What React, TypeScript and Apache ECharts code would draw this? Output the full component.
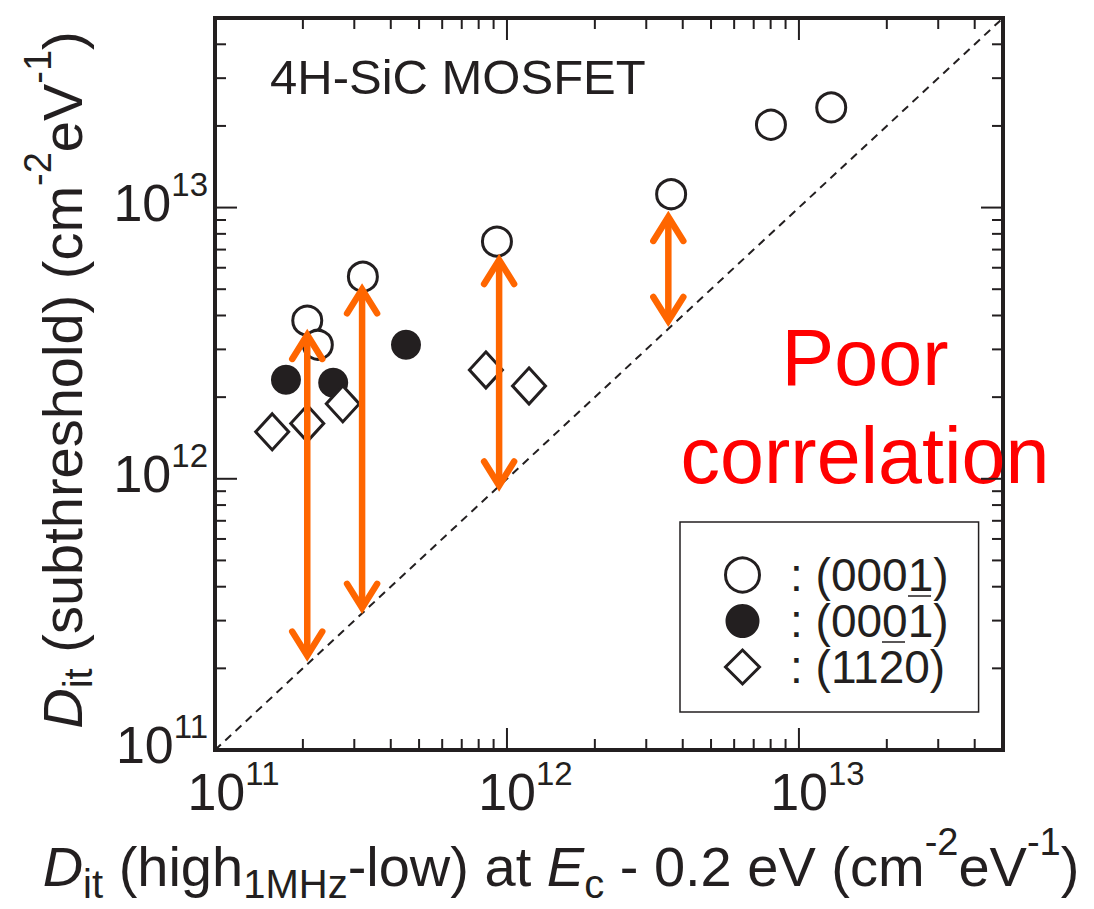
import React, { useEffect, useRef } from "react";
import * as echarts from "echarts";

// ---- data ----
const axisMin = 1e11;
const axisMax = 5e13;

const openX = [2.07e11, 2.25e11, 3.21e11, 9.24e11, 3.65e12, 8.02e12, 1.29e13];
const openY = [3.83e12, 3.12e12, 5.56e12, 7.49e12, 1.12e13, 2.02e13, 2.34e13];

const filledX = [1.75e11, 2.54e11, 4.51e11];
const filledY = [2.32e12, 2.26e12, 3.12e12];

const diamondX = [1.57e11, 2.07e11, 2.74e11, 8.47e11, 1.19e12];
const diamondY = [1.49e12, 1.6e12, 1.89e12, 2.52e12, 2.2e12];

const arrowX = [2.07e11, 3.19e11, 9.4e11, 3.57e12];
const arrowTop = [3.6e12, 5.3e12, 6.8e12, 9.8e12];
const arrowBottom = [2.1e11, 3.15e11, 8.9e11, 3.6e12];

const diagX = [1e11, 5e13];
const diagY = [1e11, 5e13];

const tickDecades = [11, 12, 13];
const tickMultipliers = [1, 2, 3, 4, 5, 6, 7, 8, 9];

const seriesNames = ["C-face (000-1)", "Si-face (0001)", "a-face (11-20)"];
const legendTexts = ["\u00a0\u00a0: (0001)", "\u00a0\u00a0: (0001)", "\u00a0\u00a0: (1120)"];

const INK = "#231f20";
const ORANGE = "#ff6600";
const FONT = "'Liberation Sans', Arial, Helvetica, sans-serif";

const zip = (a: number[], b: number[]) => a.map((v, i) => [v, b[i]]);

export default function App() {
  const ref = useRef<HTMLDivElement>(null);

  useEffect(() => {
    if (!ref.current) return;
    const chart = echarts.init(ref.current, null, { renderer: "svg" });

    const tickData: number[][] = [];
    tickDecades.forEach((d) =>
      tickMultipliers.forEach((m) => {
        const v = m * Math.pow(10, d);
        if (v <= axisMax) tickData.push([v, v, m === 1 ? 1 : 0]);
      })
    );

    const labelFormatter = (v: number) => {
      const e = Math.log10(v);
      const n = Math.round(e);
      if (Math.abs(e - n) > 1e-6) return "";
      return `{b|10}{s|${n}}`;
    };
    const labelRich = {
      b: { fontSize: 52, lineHeight: 70, fontFamily: FONT, color: INK },
      s: { fontSize: 33, lineHeight: 33, verticalAlign: "top", fontFamily: FONT, color: INK },
    };

    const titleRich = (main: number, sub: number, sup: number, subPad: number, supPad: number, lh: number) => ({
      n: { fontSize: main, lineHeight: lh, fontFamily: FONT, color: INK },
      it: { fontSize: main, lineHeight: lh, fontStyle: "italic", fontFamily: FONT, color: INK },
      sub: { fontSize: sub, padding: [subPad, 0, 0, 0], fontFamily: FONT, color: INK },
      sup: { fontSize: sup, padding: [0, 0, supPad, 0], fontFamily: FONT, color: INK },
    });

    const option: any = {
      animation: false,
      backgroundColor: "#ffffff",
      grid: {
        left: 215,
        right: 91,
        top: 18,
        bottom: 159,
        show: true,
        borderWidth: 4,
        borderColor: INK,
        backgroundColor: "transparent",
      },
      xAxis: {
        type: "log",
        logBase: 10,
        min: axisMin,
        max: axisMax,
        axisLine: { show: false },
        axisTick: { show: false },
        splitLine: { show: false },
        axisLabel: {
          formatter: labelFormatter,
          rich: labelRich,
          margin: 7,
          padding: [0, 0, 0, 37],
          showMaxLabel: false,
        },
        name: "{it|D}{sub|it}{n| (high}{sub|1MHz}{n|-low) at }{it|E}{sub|c}{n| - 0.2 eV (cm}{sup|-2}{n|eV}{sup|-1}{n|)}",
        nameLocation: "middle",
        nameGap: 73,
        nameTextStyle: { rich: titleRich(56, 40, 38, 36, 48, 86), padding: [0, 96, 0, 0] },
      },
      yAxis: {
        type: "log",
        logBase: 10,
        min: axisMin,
        max: axisMax,
        axisLine: { show: false },
        axisTick: { show: false },
        splitLine: { show: false },
        axisLabel: {
          formatter: labelFormatter,
          rich: labelRich,
          margin: 7,
          padding: [0, 0, 10, 0],
          showMaxLabel: false,
        },
        name: "{it|D}{sub|it}{n| (subthreshold) (cm}{sup|-2}{n|eV}{sup|-1}{n|)}",
        nameLocation: "middle",
        nameRotate: 90,
        nameGap: 110,
        nameTextStyle: { rich: titleRich(56, 40, 38, 31, 48, 86), padding: [0, 0, 0, 8] },
      },
      legend: {
        orient: "vertical",
        left: 680,
        top: 522,
        padding: [30, 30, 22, 44],
        itemGap: 0,
        itemWidth: 34,
        itemHeight: 34,
        borderColor: INK,
        borderWidth: 1.5,
        backgroundColor: "#ffffff",
        selectedMode: false,
        textStyle: { fontSize: 46, lineHeight: 46, color: INK, fontFamily: FONT },
        formatter: (name: string) => legendTexts[seriesNames.indexOf(name)],
        data: [
          { name: seriesNames[0], icon: "circle", itemStyle: { color: "#ffffff", borderColor: INK, borderWidth: 3 } },
          { name: seriesNames[1], icon: "circle", itemStyle: { color: INK, borderColor: INK, borderWidth: 0 } },
          { name: seriesNames[2], icon: "diamond", itemStyle: { color: "#ffffff", borderColor: INK, borderWidth: 3 } },
        ],
      },
      graphic: [
        {
          type: "text",
          left: 270,
          top: 52,
          style: { text: "4H-SiC MOSFET", fontSize: 49, fontFamily: FONT, fill: INK },
        },
        {
          type: "text",
          x: 865,
          y: 406,
          style: {
            text: "Poor\ncorrelation",
            fontSize: 79,
            lineHeight: 98,
            fontFamily: FONT,
            fill: "#ff0000",
            align: "center",
            verticalAlign: "middle",
          },
        },
        { type: "line", shape: { x1: 908, y1: 596, x2: 931, y2: 596 }, style: { stroke: INK, lineWidth: 1.5 }, z: 200 },
        { type: "line", shape: { x1: 882, y1: 642, x2: 905, y2: 642 }, style: { stroke: INK, lineWidth: 1.5 }, z: 200 },
      ],
      series: [
        {
          type: "custom",
          name: "ticks",
          clip: false,
          silent: true,
          z: 1,
          encode: { x: 0, y: 1 },
          data: tickData,
          renderItem: (params: any, api: any) => {
            const v = api.value(0);
            const major = api.value(2) === 1;
            const cs = params.coordSys;
            const px = api.coord([v, axisMin])[0];
            const py = api.coord([axisMin, v])[1];
            const L = major ? 22 : 11;
            const style = { stroke: INK, lineWidth: 2 };
            const bottom = cs.y + cs.height;
            const right = cs.x + cs.width;
            const children: any[] = [];
            if (px > cs.x + 2 && px < right - 2) {
              children.push({ type: "line", shape: { x1: px, y1: bottom, x2: px, y2: bottom - L }, style });
              children.push({ type: "line", shape: { x1: px, y1: cs.y, x2: px, y2: cs.y + L }, style });
            }
            if (py > cs.y + 2 && py < bottom - 2) {
              children.push({ type: "line", shape: { x1: cs.x, y1: py, x2: cs.x + L, y2: py }, style });
              children.push({ type: "line", shape: { x1: right, y1: py, x2: right - L, y2: py }, style });
            }
            return { type: "group", children };
          },
        },
        {
          type: "line",
          name: "diagonal",
          data: zip(diagX, diagY),
          symbol: "none",
          silent: true,
          z: 2,
          lineStyle: { color: INK, width: 2, type: [8, 6] },
        },
        {
          type: "scatter",
          name: seriesNames[0],
          data: zip(openX, openY),
          symbol: "circle",
          symbolSize: 29,
          z: 3,
          itemStyle: { color: "#ffffff", borderColor: INK, borderWidth: 3, opacity: 1 },
        },
        {
          type: "scatter",
          name: seriesNames[1],
          data: zip(filledX, filledY),
          symbol: "circle",
          symbolSize: 30,
          z: 3,
          itemStyle: { color: INK, opacity: 1 },
        },
        {
          type: "scatter",
          name: seriesNames[2],
          data: zip(diamondX, diamondY),
          symbol: "diamond",
          symbolSize: [33, 36],
          z: 3,
          itemStyle: { color: "#ffffff", borderColor: INK, borderWidth: 3, opacity: 1 },
        },
        {
          type: "custom",
          name: "arrows",
          clip: false,
          silent: true,
          z: 4,
          encode: { x: 0, y: [1, 2] },
          data: arrowX.map((x, i) => [x, arrowTop[i], arrowBottom[i]]),
          renderItem: (params: any, api: any) => {
            const x = api.value(0);
            const t = api.coord([x, api.value(1)]);
            const b = api.coord([x, api.value(2)]);
            const hw = 15;
            const hh = 31;
            const off = 7;
            const lw = 6.5;
            const style = { stroke: ORANGE, lineWidth: lw, fill: "none", lineJoin: "miter", lineCap: "round" };
            return {
              type: "group",
              children: [
                {
                  type: "line",
                  shape: { x1: t[0], y1: t[1] + 10, x2: b[0], y2: b[1] - 10 },
                  style: { stroke: ORANGE, lineWidth: lw },
                },
                {
                  type: "polyline",
                  shape: { points: [[t[0] - hw, t[1] + hh], [t[0], t[1] + off], [t[0] + hw, t[1] + hh]] },
                  style,
                },
                {
                  type: "polyline",
                  shape: { points: [[b[0] - hw, b[1] - hh], [b[0], b[1] - off], [b[0] + hw, b[1] - hh]] },
                  style,
                },
              ],
            };
          },
        },
      ],
    };

    chart.setOption(option);
    return () => chart.dispose();
  }, []);

  return (
    <div
      ref={ref}
      style={{ position: "fixed", left: 0, top: 0, width: 1094, height: 909, background: "#fff" }}
    />
  );
}
